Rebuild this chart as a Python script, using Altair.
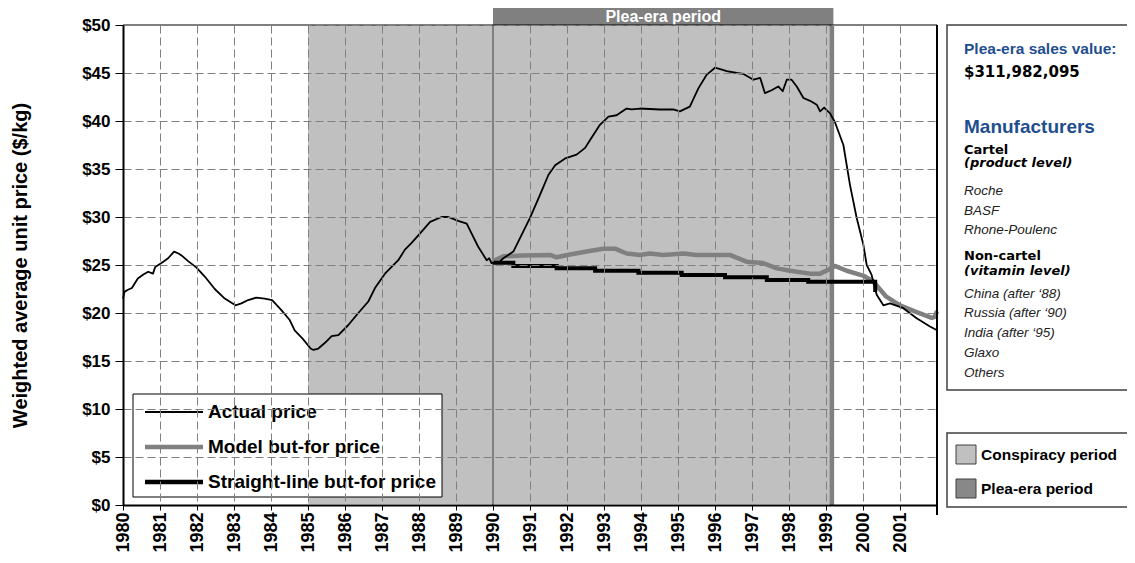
import altair as alt
import pandas as pd

# ---------------- data ----------------
actual_year = [1980.00, 1980.04, 1980.12, 1980.24, 1980.40, 1980.55, 1980.68, 1980.81, 1980.87,
               1981.04, 1981.22, 1981.38, 1981.50, 1981.58, 1981.76, 1981.98, 1982.21, 1982.48,
               1982.75, 1983.04, 1983.20, 1983.38, 1983.60, 1983.83, 1984.03, 1984.28, 1984.50,
               1984.64, 1984.86, 1985.07, 1985.15, 1985.28, 1985.46, 1985.64, 1985.82, 1986.09,
               1986.36, 1986.63, 1986.81, 1987.08, 1987.44, 1987.62, 1987.80, 1988.03, 1988.30,
               1988.61, 1988.79, 1989.06, 1989.29, 1989.42, 1989.60, 1989.83, 1989.90, 1989.96,
               1990.05, 1990.14, 1990.28, 1990.55, 1990.82, 1991.00, 1991.27, 1991.50, 1991.68,
               1991.95, 1992.26, 1992.49, 1992.62, 1992.89, 1993.12, 1993.34, 1993.61, 1993.75,
               1993.97, 1994.51, 1994.87, 1995.05, 1995.32, 1995.55, 1995.77, 1996.00, 1996.14,
               1996.32, 1996.59, 1996.77, 1997.04, 1997.22, 1997.35, 1997.53, 1997.71, 1997.83,
               1997.94, 1998.07, 1998.21, 1998.39, 1998.57, 1998.75, 1998.84, 1998.95, 1999.11,
               1999.24, 1999.47, 1999.65, 1999.83, 2000.01, 2000.10, 2000.23, 2000.37, 2000.55,
               2000.73, 2001.09, 2001.45, 2001.81, 2002.00]
actual_price = [21.5, 22.2, 22.4, 22.6, 23.6, 24.0, 24.3, 24.1, 24.8,
                25.2, 25.7, 26.4, 26.2, 26.0, 25.4, 24.75, 23.8, 22.5,
                21.5, 20.8, 21.0, 21.35, 21.6, 21.5, 21.35, 20.3, 19.3,
                18.2, 17.3, 16.3, 16.15, 16.3, 16.9, 17.6, 17.7, 18.75,
                20.0, 21.2, 22.6, 24.1, 25.5, 26.6, 27.3, 28.3, 29.5,
                30.0, 30.0, 29.6, 29.3, 28.3, 26.9, 25.5, 25.7, 25.2,
                25.3, 25.2, 25.7, 26.4, 28.5, 29.9, 32.3, 34.4, 35.4,
                36.1, 36.5, 37.2, 38.0, 39.6, 40.45, 40.6, 41.3, 41.2,
                41.3, 41.2, 41.2, 41.0, 41.5, 43.4, 44.8, 45.55, 45.4,
                45.2, 45.0, 44.9, 44.3, 44.5, 42.9, 43.2, 43.6, 43.1,
                44.3, 44.3, 43.6, 42.4, 42.1, 41.7, 41.0, 41.4, 40.8,
                39.9, 37.5, 33.3, 29.9, 27.1, 25.0, 24.0, 21.9, 20.8,
                21.0, 20.5, 19.45, 18.6, 18.2]

model_year = [1990.00, 1990.10, 1990.28, 1990.80, 1991.54, 1991.72, 1992.08, 1992.53, 1992.98,
              1993.30, 1993.61, 1993.97, 1994.24, 1994.60, 1995.14, 1995.50, 1996.40, 1996.85,
              1997.30, 1997.67, 1998.03, 1998.57, 1998.84, 1999.06, 1999.24, 1999.56, 2000.00,
              2000.27, 2000.63, 2001.00, 2001.45, 2001.86, 2001.94, 2002.00]
model_price = [25.3, 25.6, 25.9, 26.0, 26.05, 25.8, 26.1, 26.4, 26.7,
               26.7, 26.2, 26.05, 26.2, 26.05, 26.2, 26.05, 26.05, 25.35,
               25.2, 24.65, 24.4, 24.1, 24.1, 24.5, 24.9, 24.4, 23.9,
               23.3, 21.7, 20.8, 20.1, 19.5, 19.6, 20.2]

straight_year = [1990.00, 1990.55, 1991.72, 1992.76, 1993.93, 1995.10, 1996.27, 1997.40,
                 1998.52, 2000.23, 2000.33]
straight_price = [25.24, 24.9, 24.65, 24.4, 24.2, 23.96, 23.72, 23.44, 23.26, 23.26, 22.2]

period_names = ["Conspiracy period", "Plea-era period"]
period_start = [1985.0, 1990.0]
period_end = [1999.2, 1999.2]

x_ticks = list(range(1980, 2002))
y_ticks = list(range(0, 55, 5))

legend_labels = ["Actual price", "Model but-for price", "Straight-line but-for price"]
panel_texts = ["Plea-era sales value:", "$311,982,095", "Manufacturers", "Cartel",
               "(product level)", "Roche", "BASF", "Rhone-Poulenc", "Non-cartel",
               "(vitamin level)", "China (after \u201888)", "Russia (after \u201890)",
               "India (after \u201895)", "Glaxo", "Others"]

# ---------------- layout / style ----------------
W, H = 814, 480
FONT = "Liberation Sans"
BLUE = "#1f4e8f"

actual_df = pd.DataFrame({"year": actual_year, "price": actual_price})
model_df = pd.DataFrame({"year": model_year, "price": model_price})
straight_df = pd.DataFrame({"year": straight_year, "price": straight_price})
period_df = pd.DataFrame({"name": period_names, "start": period_start, "end": period_end})
period_df["mid"] = (period_df["start"] + period_df["end"]) / 2

xs = alt.Scale(domain=[1980, 2002], nice=False, zero=False)
ys = alt.Scale(domain=[0, 50], nice=False, zero=True)

xaxis = alt.Axis(values=x_ticks, format="d", labelAngle=-90, labelFont=FONT,
                 labelFontSize=18, labelFontWeight="bold", labelColor="black",
                 labelPadding=2, labelFlush=False, labelOverlap=False,
                 tickSize=5, tickColor="black", tickWidth=1,
                 domainColor="black", domainWidth=2,
                 grid=True, gridColor="#808080", gridDash=[8, 4], gridWidth=1,
                 title=None, zindex=1)
yaxis = alt.Axis(values=y_ticks, labelExpr="'$' + datum.value", labelFont=FONT,
                 labelFontSize=17, labelFontWeight="bold", labelColor="black",
                 labelPadding=5, labelFlush=False, tickSize=8, tickColor="black",
                 tickWidth=1, domainColor="black", domainWidth=2,
                 grid=True, gridColor="#808080", gridDash=[8, 4], gridWidth=1,
                 title="Weighted average unit price ($/kg)", titleFont=FONT,
                 titleFontSize=20, titleFontWeight="bold", titleColor="black",
                 titleX=-103, titleY=H / 2, titleAngle=-90, titleAlign="center",
                 titleBaseline="middle", zindex=1)


def X(field):
    return alt.X(f"{field}:Q", scale=xs, axis=xaxis)


def Y(field):
    return alt.Y(f"{field}:Q", scale=ys, axis=yaxis)


one = pd.DataFrame({"k": [0]})

layers = []

# conspiracy shading
layers.append(alt.Chart(period_df.iloc[[0]]).mark_rect(color="#c0c0c0").encode(
    x=X("start"), x2="end", y=alt.value(0), y2=alt.value(H - 1)))

# plea-era boundaries
plea = period_df.iloc[[1]]
layers.append(alt.Chart(plea).mark_rule(color="#808080", strokeWidth=2).encode(x=X("start")))
layers.append(alt.Chart(plea).mark_rule(color="#808080", strokeWidth=4.5).encode(
    x=alt.X("end:Q", scale=xs, axis=xaxis), xOffset=alt.value(-1.5)))
layers.append(alt.Chart(plea).mark_rect(color="#808080").encode(
    x=X("start"), x2="end", y=alt.value(-17), y2=alt.value(0)))
layers.append(alt.Chart(plea).mark_text(color="white", font=FONT, fontSize=16,
                                        fontWeight="bold", baseline="middle").encode(
    x=X("mid"), y=alt.value(-8), text="name:N"))

# series
layers.append(alt.Chart(model_df).mark_line(color="#808080", strokeWidth=4.5,
                                            strokeJoin="round").encode(
    x=X("year"), y=Y("price")))
layers.append(alt.Chart(straight_df).mark_line(color="black", strokeWidth=4,
                                               interpolate="step-after").encode(
    x=X("year"), y=Y("price")))
layers.append(alt.Chart(actual_df).mark_line(color="black", strokeWidth=1.8,
                                             strokeJoin="round").encode(
    x=X("year"), y=Y("price")))

# borders
layers.append(alt.Chart(one).mark_rule(color="black", strokeWidth=1).encode(
    x=alt.value(0), x2=alt.value(W), y=alt.value(0)))
layers.append(alt.Chart(one).mark_rule(color="black", strokeWidth=2).encode(
    x=alt.value(W), y=alt.value(0), y2=alt.value(H + 10)))

# line legend
layers.append(alt.Chart(one).mark_rect(fill="white", stroke="black", strokeWidth=1).encode(
    x=alt.value(10), x2=alt.value(319), y=alt.value(369), y2=alt.value(472)))
leg_y = [387, 422, 457]
leg_style = [("black", 1.8), ("#808080", 4.5), ("black", 4.5)]
for lab, yy, (col, sw) in zip(legend_labels, leg_y, leg_style):
    layers.append(alt.Chart(one).mark_rule(color=col, strokeWidth=sw).encode(
        x=alt.value(22), x2=alt.value(80), y=alt.value(yy)))
    layers.append(alt.Chart(one).mark_text(align="left", baseline="middle", font=FONT,
                                           fontSize=19, fontWeight="bold", color="black",
                                           text=lab).encode(
        x=alt.value(85), y=alt.value(yy)))

# right info panel
layers.append(alt.Chart(one).mark_rect(fill="white", stroke="#404040", strokeWidth=1.5).encode(
    x=alt.value(824), x2=alt.value(1030), y=alt.value(0), y2=alt.value(365)))
panel_y = [29, 52, 108, 129, 142, 170, 190, 209, 235, 250, 273, 292, 312, 332, 352]
S_BLUE = dict(font=FONT, fontSize=15.5, fontWeight="bold", color=BLUE)
S_BLUE2 = dict(font=FONT, fontSize=19, fontWeight="bold", color=BLUE)
S_BIG = dict(font="DejaVu Sans", fontSize=15, fontWeight="bold", color="black")
S_HEAD = dict(font="DejaVu Sans", fontSize=13, fontWeight="bold", color="black")
S_HEADI = dict(font="DejaVu Sans", fontSize=13, fontWeight="bold", fontStyle="italic",
               color="black")
S_ITEM = dict(font=FONT, fontSize=13.5, fontStyle="italic", color="#222222")
panel_style = [S_BLUE, S_BIG, S_BLUE2, S_HEAD, S_HEADI, S_ITEM, S_ITEM, S_ITEM, S_HEAD,
               S_HEADI, S_ITEM, S_ITEM, S_ITEM, S_ITEM, S_ITEM]
for txt, yy, st in zip(panel_texts, panel_y, panel_style):
    layers.append(alt.Chart(one).mark_text(align="left", baseline="alphabetic", text=txt,
                                           **st).encode(x=alt.value(841), y=alt.value(yy)))

# period legend
layers.append(alt.Chart(one).mark_rect(fill="white", stroke="#404040", strokeWidth=1.5).encode(
    x=alt.value(824), x2=alt.value(1030), y=alt.value(408), y2=alt.value(482)))
sw_y = [429.5, 463.5]
sw_fill = ["#c0c0c0", "#888888"]
for name, yy, fc in zip(period_names, sw_y, sw_fill):
    layers.append(alt.Chart(one).mark_rect(fill=fc, stroke="#404040", strokeWidth=1).encode(
        x=alt.value(833), x2=alt.value(853), y=alt.value(yy - 9.5), y2=alt.value(yy + 9.5)))
    layers.append(alt.Chart(one).mark_text(align="left", baseline="middle", font=FONT,
                                           fontSize=15.5, fontWeight="bold", color="black",
                                           text=name).encode(
        x=alt.value(858), y=alt.value(yy)))

chart = alt.layer(*layers).properties(
    width=W, height=H,
    padding={"left": 115, "top": 17, "right": 190, "bottom": 50},
    autosize=alt.AutoSizeParams(type="none"),
).configure_view(stroke=None)

chart.save("out.html", embed_options={"renderer": "svg", "actions": False})
